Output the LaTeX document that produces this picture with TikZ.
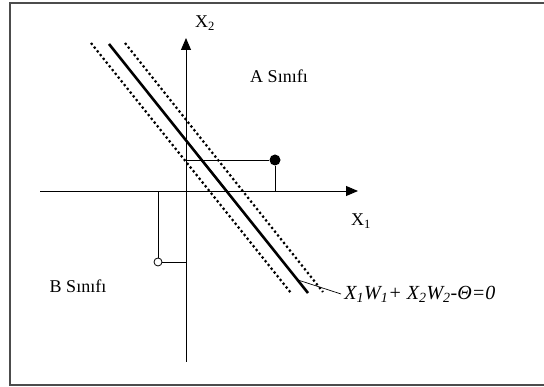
\documentclass[tikz,border=0pt]{standalone}
\usepackage{fontspec}
\setmainfont{Liberation Serif}
\usetikzlibrary{positioning, arrows.meta}

\begin{document}
\begin{tikzpicture}[x=1pt, y=-1pt, line width=0.9pt,
    lbl/.style={font=\fontsize{18}{20}\selectfont, inner sep=0pt},
    axisarrow/.style={-{Triangle[length=12pt,width=10pt]}},
    margin/.style={line width=2.2pt, line cap=butt, dash pattern=on 2.2pt off 2.6pt}]
    \useasboundingbox (0,0) rectangle (544,387);
    % frame
    \draw[line width=1.5pt, black!70] (546,3) -- (10,3) -- (10,385) -- (546,385);
    % axes
    \coordinate (o) at (186,191);
    \coordinate (x1start) at (40,191);
    \coordinate (x1end) at (358,191);
    \coordinate (x2start) at (186,362);
    \coordinate (x2end) at (186,38);
    \draw[axisarrow] (x1start) -- (x1end);
    \draw[axisarrow] (x2start) -- (x2end);
    \node[lbl] (x1lbl) at (361,221) {X\textsubscript{1}};
    \node[lbl] (x2lbl) at (205,23) {X\textsubscript{2}};
    % separating line and its margins
    \coordinate (sepa) at (109,44);
    \coordinate (sepb) at (308,293);
    \coordinate (lowa) at (91,43);
    \coordinate (lowb) at (291,293);
    \coordinate (upa) at (125,43);
    \coordinate (upb) at (323,292);
    \draw[line width=2.6pt] (sepa) -- (sepb);
    \draw[margin] (lowa) -- (lowb);
    \draw[margin] (upa) -- (upb);
    % class samples
    \node[circle, fill, inner sep=0pt, minimum size=11pt] (pa) at (275,160) {};
    \node[circle, draw, fill=white, inner sep=0pt, minimum size=8pt, line width=0.8pt] (pb) at (158,262) {};
    \draw (pa) -- (pa -| o);
    \draw (pa) -- (pa |- o);
    \draw (pb) -- (pb -| o);
    \draw (pb) -- (pb |- o);
    \node[lbl] (clsa) at (279,76) {A Sınıfı};
    \node[lbl] (clsb) at (78,286) {B Sınıfı};
    % equation of the line
    \coordinate (eqtip) at (298,280);
    \node[lbl, anchor=west, font=\fontsize{20}{22}\selectfont\itshape] (eq) at (344,294)
      {X\textsubscript{1}W\textsubscript{1}+ X\textsubscript{2}W\textsubscript{2}-Θ=0};
    \draw[line width=0.7pt] (eqtip) -- ([xshift=-3pt]eq.west);
\end{tikzpicture}
\end{document}
